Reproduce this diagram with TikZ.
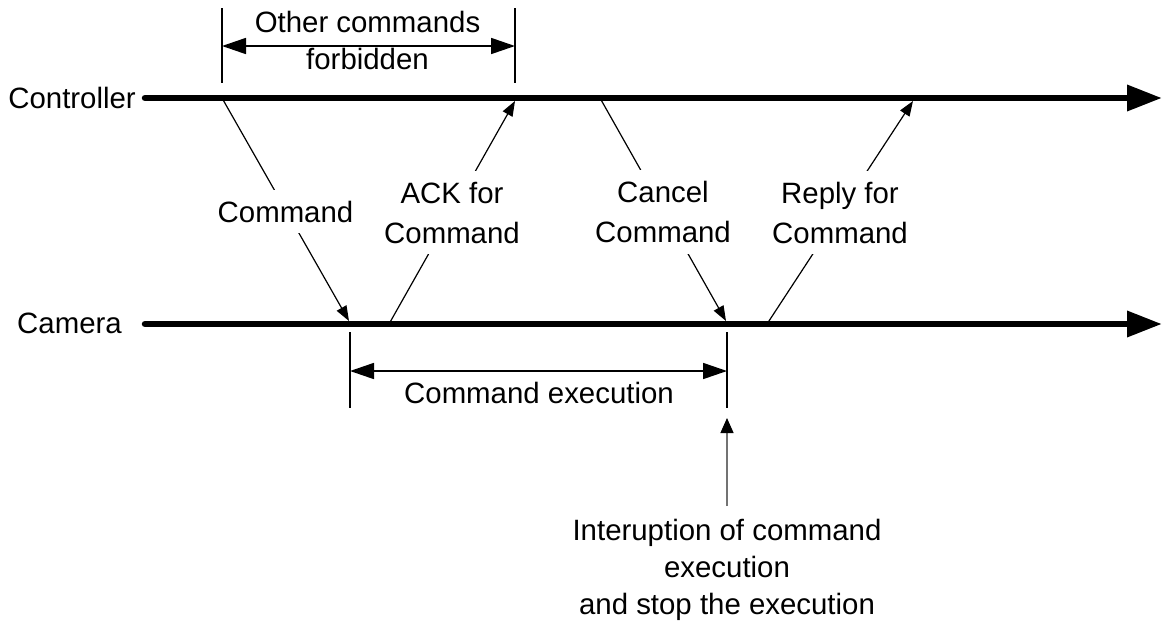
\documentclass[tikz,border=0pt]{standalone}
\usepackage{fontspec}
\setmainfont{Liberation Sans}
\usetikzlibrary{arrows.meta}

\begin{document}
\begin{tikzpicture}[x=1pt,y=-1pt,
  every node/.style={font=\fontsize{29.4pt}{40pt}\selectfont},
  timeline/.style={line width=6.5pt, line cap=round,
    -{Triangle[length=35pt,width=25pt]}},
  msg/.style={line width=1.2pt, -{Triangle[length=15pt,width=11pt]}},
  msglabel/.style={fill=white, align=center, inner xsep=4pt, inner ysep=11pt},
  bracketline/.style={line width=1.7pt},
  spanarrow/.style={line width=1.7pt,
    {Triangle[length=24pt,width=16pt]}-{Triangle[length=24pt,width=16pt]}},
  notetext/.style={align=center, inner sep=0pt,
    font=\fontsize{29.4pt}{37pt}\selectfont},
  interarrow/.style={line width=1.3pt, draw=black!55,
    -{Triangle[length=15pt,width=13pt,color=black]}}
]
\useasboundingbox (0,0) rectangle (1163,625);

% lifeline labels
\node[anchor=base east, inner sep=0pt] (ctrl) at (136,108) {Controller};
\node[anchor=base east, inner sep=0pt] (cam)  at (122,333) {Camera};

% lifeline end points
\coordinate (ctrlstart) at (145,98);
\coordinate (ctrlend)   at (1162,98);
\coordinate (camstart)  at (145,324);
\coordinate (camend)    at (1162,324);

% message end points on the two lifelines
\coordinate (c1) at (222,98);   \coordinate (m1) at (349,321);
\coordinate (m2) at (389,324);  \coordinate (c2) at (515,101);
\coordinate (c3) at (600,98);   \coordinate (m3) at (726,321);
\coordinate (m4) at (767,324);  \coordinate (c4) at (913,101);

% messages
\draw[msg] (c1) -- node[msglabel, yshift=-2pt] (cmdlbl) {Command} (m1);
\draw[msg] (m2) -- node[msglabel] (acklbl) {ACK for\\Command} (c2);
\draw[msg] (c3) -- node[msglabel, yshift=-2.5pt] (canlbl) {Cancel\\Command} (m3);
\draw[msg] (m4) -- node[msglabel] (replbl) {Reply for\\Command} (c4);

% lifelines
\draw[timeline] (ctrlstart) -- (ctrlend);
\draw[timeline] (camstart) -- (camend);

% interval: other commands forbidden
\coordinate (fa1) at (222,8);  \coordinate (fa2) at (222,83);
\coordinate (fb1) at (515,8);  \coordinate (fb2) at (515,83);
\coordinate (fl)  at (222,46); \coordinate (fr)  at (515,46);
\draw[bracketline] (fa1) -- (fa2);
\draw[bracketline] (fb1) -- (fb2);
\draw[spanarrow] (fl) -- (fr);
\node[notetext, anchor=north] (forbid) at (367.5,11) {Other commands\\forbidden};

% interval: command execution
\coordinate (ea1) at (350,332); \coordinate (ea2) at (350,408);
\coordinate (eb1) at (727,332); \coordinate (eb2) at (727,408);
\coordinate (el)  at (350,371); \coordinate (er)  at (727,371);
\draw[bracketline] (ea1) -- (ea2);
\draw[bracketline] (eb1) -- (eb2);
\draw[spanarrow] (el) -- (er);
\node[anchor=base, inner sep=0pt] (exec) at (539,403) {Command execution};

% interruption note
\node[notetext, anchor=north] (interrupt) at (727,519)
  {Interuption of command\\execution\\and stop the execution};
\coordinate (intfoot) at (727,506);
\coordinate (inttip)  at (727,418);
\draw[interarrow] (intfoot) -- (inttip);
\end{tikzpicture}
\end{document}
